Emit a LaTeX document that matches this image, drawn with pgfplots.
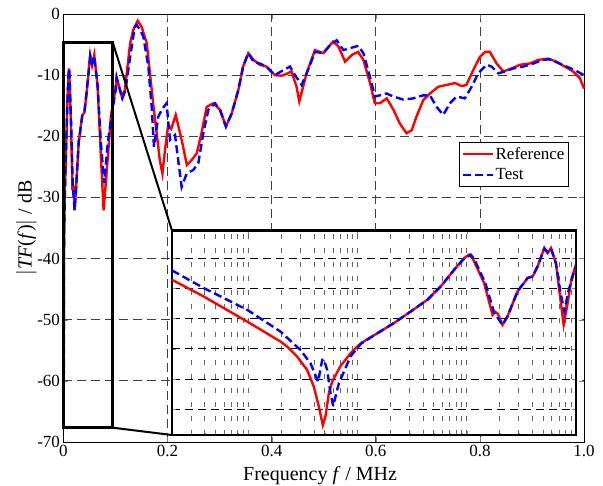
\documentclass[border=0pt]{standalone}
\usepackage{fontspec}
\setmainfont{Liberation Serif}
\usepackage{pgfplots}
\pgfplotsset{compat=1.18}
\usepackage{pgfplotstable}

\definecolor{myred}{RGB}{255,0,0}
\definecolor{myblue}{RGB}{0,0,255}

\pgfplotstableread{
f db
0.00002 -17.2
0.0000389 -22.7
0.0000973 -31.0
0.0001968 -37.6
0.0002265 -39.3
0.0002799 -42.6
0.0003451 -47.0
0.0003972 -52.5
0.0004416 -59.1
0.0004808 -65.2
0.0005082 -62.4
0.0005458 -54.7
0.0005848 -50.9
0.0006982 -45.7
0.000863 -41.5
0.001067 -38.2
0.001514 -34.9
0.002153 -31.5
0.003062 -27.7
0.004355 -23.8
0.005772 -19.4
0.007656 -13.9
0.009462 -10.0
0.01050 -8.9
0.01127 -10.0
0.01442 -18.3
0.01722 -28.8
0.01820 -27.8
0.01928 -28.5
0.02123 -32.1
0.02360 -29.3
0.02917 -21.0
0.03606 -16.6
0.04009 -16.1
0.04446 -12.8
0.05129 -6.7
0.05495 -8.4
0.05902 -6.7
0.06546 -11.7
0.07178 -23.3
0.07709 -32.1
0.08279 -26.0
0.09120 -16.6
0.1000 -12.2
0.102 -10.3
0.112 -13.5
0.118 -12.4
0.128 -4.8
0.134 -2.6
0.1425 -1.1
0.150 -2.1
0.160 -4.8
0.166 -9.7
0.173 -15.2
0.179 -19.5
0.185 -23.9
0.190 -26.1
0.195 -22.3
0.201 -18.2
0.207 -18.8
0.2155 -16.5
0.227 -20.6
0.237 -24.7
0.246 -23.9
0.256 -22.8
0.265 -19.5
0.275 -15.2
0.288 -14.6
0.301 -15.7
0.312 -18.4
0.323 -16.3
0.336 -12.4
0.345 -8.6
0.355 -6.4
0.365 -7.5
0.377 -8.3
0.390 -8.6
0.406 -10.0
0.419 -10.1
0.4285 -9.8
0.438 -9.4
0.4477 -11.9
0.453 -14.3
0.467 -9.7
0.483 -5.9
0.499 -6.4
0.518 -4.5
0.528 -5.3
0.541 -7.8
0.554 -6.7
0.566 -6.2
0.576 -7.5
0.589 -11.3
0.598 -14.6
0.608 -14.6
0.621 -13.8
0.634 -15.7
0.646 -17.9
0.659 -19.5
0.669 -19.0
0.678 -16.8
0.691 -14.1
0.704 -13.0
0.720 -11.9
0.736 -11.6
0.752 -11.3
0.765 -11.8
0.774 -11.6
0.787 -9.2
0.800 -7.0
0.810 -6.2
0.819 -6.2
0.832 -8.1
0.845 -9.4
0.861 -8.9
0.877 -8.3
0.896 -8.1
0.912 -7.5
0.931 -7.3
0.947 -7.8
0.963 -8.6
0.979 -9.4
0.992 -10.5
1.000 -12.2
}\redtab

\pgfplotstableread{
f db
0.00002 -14.1
0.0000389 -19.9
0.0000973 -27.1
0.0001968 -34.3
0.0002999 -40.4
0.0003707 -44.8
0.0004355 -50.9
0.0004742 -43.7
0.0004909 -43.5
0.0005272 -47.0
0.0005649 -54.7
0.0005984 -58.9
0.0006281 -55.8
0.0006745 -51.4
0.000863 -42.5
0.001067 -38.4
0.001514 -34.9
0.002153 -31.5
0.003062 -27.7
0.004355 -23.8
0.005772 -19.4
0.007656 -13.9
0.009462 -10.2
0.01089 -8.9
0.01175 -10.5
0.01479 -18.3
0.01778 -28.0
0.02123 -32.1
0.02360 -29.3
0.02917 -21.0
0.03606 -16.6
0.04009 -16.1
0.04446 -12.8
0.05129 -6.9
0.05495 -8.0
0.05902 -6.9
0.06546 -11.7
0.07178 -21.0
0.07816 -27.7
0.08511 -21.0
0.09333 -16.1
0.1000 -12.5
0.102 -10.5
0.113 -13.8
0.119 -12.5
0.128 -7.0
0.137 -2.1
0.1406 -1.8
0.147 -2.6
0.1534 -3.7
0.163 -8.6
0.1694 -15.2
0.1738 -21.7
0.182 -16.8
0.190 -15.5
0.198 -14.6
0.2046 -20.6
0.2142 -19.8
0.227 -28.3
0.2366 -26.1
0.2494 -25.5
0.259 -24.4
0.2686 -19.5
0.2782 -15.7
0.291 -14.6
0.3006 -15.7
0.312 -18.4
0.323 -16.3
0.336 -12.4
0.345 -8.6
0.355 -6.4
0.365 -7.8
0.377 -8.1
0.390 -8.6
0.406 -10.0
0.422 -9.2
0.435 -8.6
0.4448 -10.0
0.4576 -11.6
0.4672 -9.7
0.4832 -6.2
0.4992 -6.4
0.512 -5.1
0.5248 -4.3
0.5376 -5.9
0.5504 -5.6
0.5664 -5.2
0.576 -6.4
0.5888 -10.3
0.5984 -13.5
0.608 -13.3
0.6208 -13.0
0.6336 -13.5
0.6528 -14.0
0.672 -13.8
0.6912 -13.3
0.704 -13.3
0.7168 -15.2
0.7296 -16.5
0.7424 -14.6
0.7552 -13.5
0.7712 -13.8
0.784 -11.9
0.7968 -9.7
0.8128 -8.3
0.8224 -8.6
0.8352 -9.7
0.848 -9.4
0.864 -8.9
0.8832 -8.6
0.9024 -8.1
0.9216 -7.5
0.9344 -7.4
0.9504 -8.0
0.9664 -8.6
0.9824 -9.2
1.000 -10.0
}\bluetab

\begin{document}
\begin{tikzpicture}
\begin{axis}[
  name=main, at={(0pt,0pt)}, anchor=south west,
  scale only axis, width=520.5pt, height=428pt,
  xmin=0, xmax=1, ymin=-70, ymax=0,
  clip=false,
  xtick={0,0.2,0.4,0.6,0.8,1}, xticklabels={0,0.2,0.4,0.6,0.8,1.0},
  ytick={-70,-60,-50,-40,-30,-20,-10,0},
  /pgf/number format/assume math mode=true,
  tick label style={font=\fontsize{17}{17}\selectfont},
  grid=major,
  major grid style={dash pattern=on 9pt off 5pt, line width=0.8pt, black!75},
  tick align=inside, major tick length=5pt,
  axis line style={line width=0.9pt},
  xlabel={Frequency \textit{f} / MHz},
  ylabel={$|$\textit{TF}(\textit{f})$|$ / dB},
  label style={font=\fontsize{20}{20}\selectfont},
  xlabel style={at={(axis description cs:0.493,-0.079)}, anchor=center},
  ylabel style={at={(axis description cs:-0.071,0.5)}, anchor=center},
  legend style={at={(0.971,0.7016)}, anchor=north east, draw=black, line width=0.8pt,
    font=\fontsize{17}{17}\selectfont, inner xsep=3pt, inner ysep=4pt, row sep=6pt,
    nodes={inner sep=1pt}},
  legend cell align=left,
  legend image code/.code={\draw[#1] (0pt,0pt) -- (30pt,0pt);},
]
\addplot[myred, line width=2.4pt] table[x=f, y=db] {\redtab};
\addlegendentry{Reference}
\addplot[myblue, line width=2.4pt, dash pattern=on 8pt off 4pt] table[x=f, y=db] {\bluetab};
\addlegendentry{Test}
\draw[line width=2.4pt] (axis cs:0,-67.66) rectangle (axis cs:0.0945,-4.63);
\draw[line width=2pt] (axis cs:0.0945,-4.63) -- (axis cs:0.2085,-35.44);
\draw[line width=2pt] (axis cs:0.0945,-67.66) -- (axis cs:0.2085,-68.86);
\end{axis}

\begin{axis}[
  at={(108.5pt,7pt)}, anchor=south west,
  scale only axis, width=404pt, height=204.5pt,
  xmode=log, xmin=2e-5, xmax=0.1, ymin=-68.5, ymax=-0.9,
  xtick={1e-4,1e-3,1e-2,1e-1},
  minor xtick={3e-5,4e-5,5e-5,6e-5,7e-5,8e-5,9e-5,
    2e-4,3e-4,4e-4,5e-4,6e-4,7e-4,8e-4,9e-4,
    2e-3,3e-3,4e-3,5e-3,6e-3,7e-3,8e-3,9e-3,
    2e-2,3e-2,4e-2,5e-2,6e-2,7e-2,8e-2,9e-2},
  ytick={-60,-50,-40,-30,-20,-10},
  xticklabels={}, yticklabels={},
  grid=both,
  major x grid style={dash pattern=on 5pt off 9pt, line width=0.8pt, black!60},
  minor x grid style={dash pattern=on 5pt off 9pt, line width=0.8pt, black!60},
  major y grid style={dash pattern=on 8pt off 5pt, line width=0.8pt, black},
  tick align=inside, major tick length=4pt, minor tick length=2pt,
  axis line style={line width=2.4pt},
  axis background/.style={fill=white},
]
\addplot[myred, line width=2.4pt] table[x=f, y=db] {\redtab};
\addplot[myblue, line width=2.4pt, dash pattern=on 8pt off 4pt] table[x=f, y=db] {\bluetab};
\end{axis}
\pgfresetboundingbox
\useasboundingbox (-63.5pt,-44pt) rectangle (539.5pt,442pt);
\end{tikzpicture}
\end{document}
